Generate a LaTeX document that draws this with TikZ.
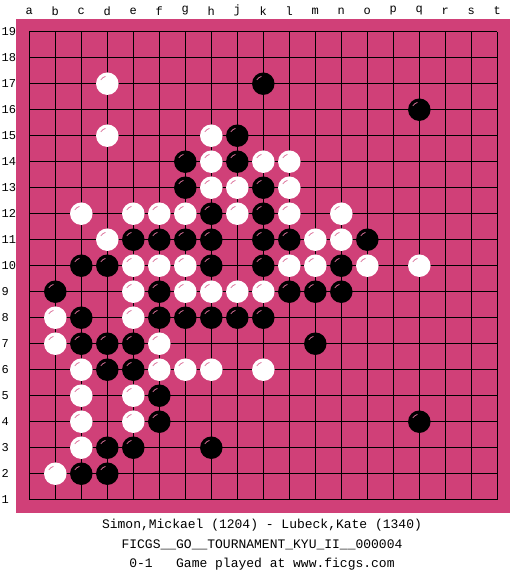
\documentclass[tikz,border=0pt]{standalone}
\usepackage{fontspec}
\setmonofont{Liberation Mono}
\definecolor{board}{RGB}{208,64,120}
\tikzset{
	bstone/.style = {circle, fill=black, minimum size=22.5pt, inner sep=0pt},
	wstone/.style = {circle, fill=white, minimum size=22.5pt, inner sep=0pt},
	shine/.style = {draw=board!75!white, line width=0.7pt},
	gridline/.style = {line width=1.1pt, black},
	coord/.style = {font=\ttfamily\fontsize{12}{12}\selectfont, inner sep=0pt},
	caption/.style = {font=\ttfamily\fontsize{13}{14}\selectfont, inner sep=0pt}
}

\begin{document}
\begin{tikzpicture}[x=26pt, y=26pt]
	\useasboundingbox (-0.127,-1.896) rectangle (20.065,20.219);
	\fill[board] (0.5,0.5) rectangle (19.5,19.5);
	\draw[gridline, step={(1,1)}] (1,1) grid (19,19);
	
	% coordinates round the board
	\foreach \l [count=\c] in {a,b,c,d,e,f,g,h,j,k,l,m,n,o,p,q,r,s,t}
		\node[coord] (col-\l) at (\c,19.8) {\l};
	\foreach \r in {1,...,19}
		\node[coord, anchor=west] (row-\r) at (-0.07,\r) {\r};
	
	% black stones
	\foreach \c/\r in {10/17, 16/16, 9/15, 7/14, 9/14, 7/13, 10/13, 8/12, 10/12,
		5/11, 6/11, 7/11, 8/11, 10/11, 11/11, 14/11, 3/10, 4/10, 8/10, 10/10, 13/10,
		2/9, 6/9, 11/9, 12/9, 13/9, 3/8, 6/8, 7/8, 8/8, 9/8, 10/8,
		3/7, 4/7, 5/7, 12/7, 4/6, 5/6, 6/5, 6/4, 16/4, 4/3, 5/3, 8/3, 3/2, 4/2} {
		\node[bstone] (b-\c-\r) at (\c,\r) {};
		\draw[shine] (b-\c-\r.center) ++(105:7.5pt) arc (105:150:7.5pt);
	}
	
	% white stones
	\foreach \c/\r in {4/17, 4/15, 8/15, 8/14, 10/14, 11/14, 8/13, 9/13, 11/13,
		3/12, 5/12, 6/12, 7/12, 9/12, 11/12, 13/12, 4/11, 12/11, 13/11,
		5/10, 6/10, 7/10, 11/10, 12/10, 14/10, 16/10, 5/9, 7/9, 8/9, 9/9, 10/9,
		2/8, 5/8, 2/7, 6/7, 3/6, 6/6, 7/6, 8/6, 10/6, 3/5, 5/5, 3/4, 5/4, 3/3, 2/2} {
		\node[wstone] (w-\c-\r) at (\c,\r) {};
		\draw[shine] (w-\c-\r.center) ++(105:7.5pt) arc (105:150:7.5pt);
	}
	
	\node[caption] (players) at (9.95,0.03) {Simon,Mickael (1204) - Lubeck,Kate (1340)};
	\node[caption] (event) at (9.95,-0.74) {FICGS\_\_GO\_\_TOURNAMENT\_KYU\_II\_\_000004};
	\node[caption] (result) at (9.95,-1.47) {0-1\ \ \ Game played at www.ficgs.com};
\end{tikzpicture}
\end{document}
